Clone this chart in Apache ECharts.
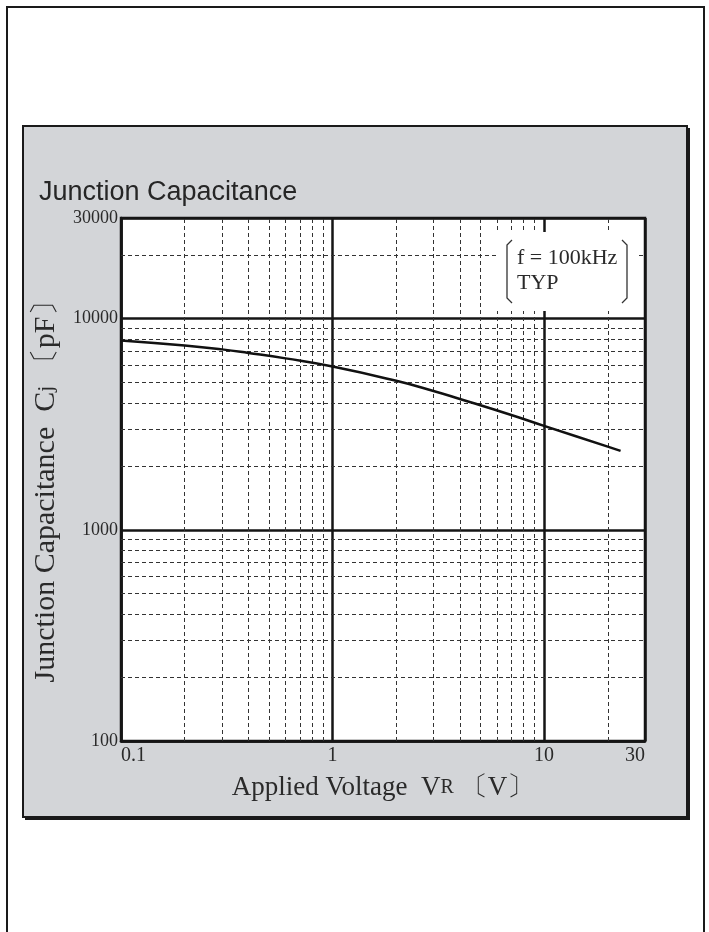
<!DOCTYPE html>
<html>
<head>
<meta charset="utf-8">
<script src="https://cdn.jsdelivr.net/npm/echarts@6/dist/echarts.min.js"></script>
<style>
html,body{margin:0;padding:0;background:#fff;}
#chart{width:709px;height:932px;}
</style>
</head>
<body>
<div id="chart"></div>
<script>
// ---- data ----
const voltage = [0.1, 0.2, 0.3, 0.4, 0.6, 1, 2, 3, 4, 7, 10, 20, 23];
const capacitance = [7890, 7465, 7160, 6890, 6490, 5940, 5080, 4550, 4170, 3500, 3110, 2480, 2365];
const xMinorGrid = [0.2, 0.3, 0.4, 0.5, 0.6, 0.7, 0.8, 0.9, 2, 3, 4, 5, 6, 7, 8, 9, 20];
const yMinorGrid = [200, 300, 400, 500, 600, 700, 800, 900, 2000, 3000, 4000, 5000, 6000, 7000, 8000, 9000, 20000];
const xRange = [0.1, 30];
const yRange = [100, 30000];
const titleText = 'Junction Capacitance';
const xName = 'Applied Voltage  V{s|R} 〔V〕';
const yName = 'Junction Capacitance  C{s|j} 〔pF〕';
const noteLines = ['f = 100kHz', 'TYP'];

const serif = '"Liberation Serif", "DejaVu Serif", serif';
const chart = echarts.init(document.getElementById('chart'), null, {renderer: 'canvas'});

const minorLines = [];
xMinorGrid.forEach(v => minorLines.push({xAxis: v}));
yMinorGrid.forEach(v => minorLines.push({yAxis: v}));

chart.setOption({
  animation: false,
  backgroundColor: '#ffffff',
  title: {
    text: titleText,
    left: 39, top: 179, padding: 0,
    textStyle: {fontFamily: '"Liberation Sans", Arial, sans-serif', fontSize: 27, fontWeight: 'normal', color: '#262626'}
  },
  grid: {
    left: 121, right: 64, top: 218, bottom: 191,
    show: true, backgroundColor: '#ffffff', borderColor: '#151515', borderWidth: 2.5
  },
  xAxis: {
    type: 'log', logBase: 10, min: xRange[0], max: xRange[1],
    name: xName, nameLocation: 'middle', nameGap: 33,
    nameTextStyle: {fontFamily: serif, fontSize: 27, color: '#2a2a2a',
      rich: {s: {fontFamily: serif, fontSize: 20, color: '#2a2a2a'}}},
    axisLine: {show: true, lineStyle: {color: '#151515', width: 2.5}},
    axisTick: {show: false},
    axisLabel: {show: true, fontFamily: serif, fontSize: 20, color: '#2a2a2a', margin: 5,
      formatter: v => String(+v.toPrecision(3)),
      showMinLabel: true, showMaxLabel: true, alignMinLabel: 'left', alignMaxLabel: 'right'},
    splitLine: {show: true, lineStyle: {color: '#151515', width: 2.5}},
    minorTick: {show: false}, minorSplitLine: {show: false}
  },
  yAxis: {
    type: 'log', logBase: 10, min: yRange[0], max: yRange[1],
    name: yName, nameLocation: 'middle', nameGap: 60, nameRotate: 90,
    nameTextStyle: {fontFamily: serif, fontSize: 30, color: '#2a2a2a', padding: [0, 10, 0, 0],
      rich: {s: {fontFamily: serif, fontSize: 22, color: '#2a2a2a'}}},
    axisLine: {show: true, lineStyle: {color: '#151515', width: 2.5}},
    axisTick: {show: false},
    axisLabel: {show: true, fontFamily: serif, fontSize: 18, color: '#2a2a2a', margin: 3,
      formatter: v => String(Math.round(v)),
      showMinLabel: true, showMaxLabel: true},
    splitLine: {show: true, lineStyle: {color: '#151515', width: 2.5}},
    minorTick: {show: false}, minorSplitLine: {show: false}
  },
  series: [
    {
      type: 'line', data: [], z: 1, silent: true,
      markLine: {
        silent: true, symbol: ['none', 'none'], label: {show: false},
        lineStyle: {type: [4, 3], color: '#333333', width: 1},
        emphasis: {disabled: true},
        data: minorLines
      }
    },
    {
      type: 'line', z: 5,
      data: voltage.map((v, i) => [v, capacitance[i]]),
      smooth: true, showSymbol: false, symbol: 'none',
      lineStyle: {color: '#111111', width: 2.5}
    }
  ],
  graphic: [
    {type: 'rect', z: -20, shape: {x: 7, y: 7, width: 697, height: 940},
      style: {fill: '#ffffff', stroke: '#1a1a1a', lineWidth: 2}},
    {type: 'rect', z: -19, shape: {x: 25, y: 128, width: 665, height: 692},
      style: {fill: '#1a1a1a'}},
    {type: 'rect', z: -18, shape: {x: 23, y: 126, width: 664, height: 691},
      style: {fill: '#d3d5d8', stroke: '#1a1a1a', lineWidth: 2}},
    {type: 'rect', z: 100, shape: {x: 497, y: 232, width: 140, height: 79},
      style: {fill: '#ffffff'}},
    {type: 'polyline', z: 101, shape: {points: [[512, 240], [507, 245], [507, 298], [512, 303]]},
      style: {stroke: '#333', lineWidth: 1.3, fill: null}},
    {type: 'polyline', z: 101, shape: {points: [[622, 240], [627, 245], [627, 298], [622, 303]]},
      style: {stroke: '#333', lineWidth: 1.3, fill: null}},
    {type: 'text', z: 101, x: 517, y: 258,
      style: {text: noteLines[0], font: '22px ' + serif, fill: '#2a2a2a', textVerticalAlign: 'middle'}},
    {type: 'text', z: 101, x: 517, y: 283,
      style: {text: noteLines[1], font: '22px ' + serif, fill: '#2a2a2a', textVerticalAlign: 'middle'}}
  ]
});
</script>
</body>
</html>
